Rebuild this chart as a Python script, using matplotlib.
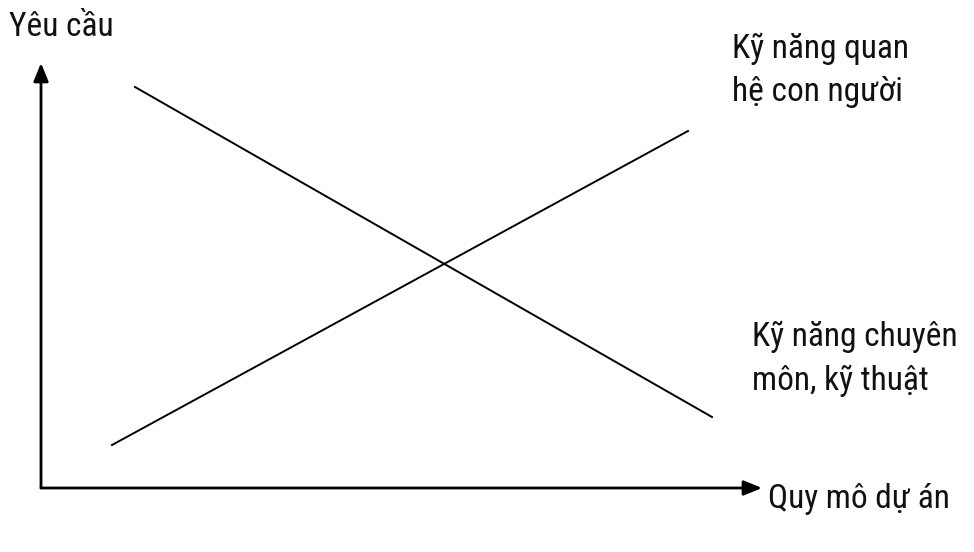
import matplotlib
matplotlib.use("Agg")
import matplotlib.pyplot as plt

# --- Data (canvas units: x to the right, y downward) ---
tech_x = [135, 712]          # Kỹ năng chuyên môn, kỹ thuật (falls)
tech_y = [87, 417]
human_x = [112, 688]         # Kỹ năng quan hệ con người (rises)
human_y = [445, 131]

origin = (41, 488)
x_axis_end = 762
y_axis_end = 63

y_label = "Yêu cầu"
x_label = "Quy mô dự án"
human_label = "Kỹ năng quan\nhệ con người"
tech_label = "Kỹ năng chuyên\nmôn, kỹ thuật"

plt.rcParams["font.family"] = ["Roboto Condensed", "DejaVu Sans"]

fig = plt.figure(figsize=(9.74, 5.52), dpi=100)
ax = fig.add_axes([0, 0, 1, 1])
ax.set_xlim(0, 974)
ax.set_ylim(552, 0)
ax.axis("off")

# axes with arrows
arrow = dict(arrowstyle="-|>,head_length=1.1,head_width=0.45", color="black",
             lw=2.0, shrinkA=0, shrinkB=0)
ax.annotate("", xy=(x_axis_end, origin[1]), xytext=origin, arrowprops=arrow)
ax.annotate("", xy=(origin[0], y_axis_end), xytext=origin, arrowprops=arrow)

ax.plot(tech_x, tech_y, color="black", lw=1.4)
ax.plot(human_x, human_y, color="black", lw=1.4)

tkw = dict(fontsize=24, color="#111111", va="center", ha="left")
ax.text(9, 27, y_label, **tkw)
ax.text(768, 499, x_label, **tkw)
ax.text(732, 70, human_label, linespacing=1.45, **tkw)
ax.text(752, 359, tech_label, linespacing=1.45, **tkw)

fig.savefig("out.png", dpi=100)
